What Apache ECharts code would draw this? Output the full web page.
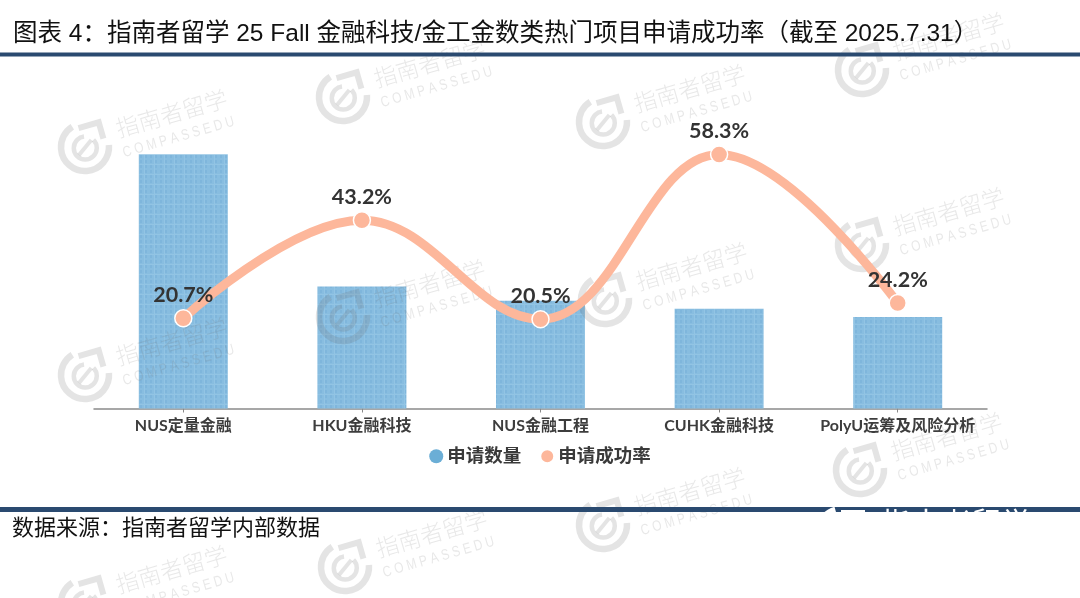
<!DOCTYPE html>
<html><head><meta charset="utf-8">
<style>html,body{margin:0;padding:0;background:#fff}#c{width:1080px;height:598px}</style>
<script src="https://cdn.jsdelivr.net/npm/echarts@6/dist/echarts.min.js"></script>
</head><body><div id="c"></div>
<script>
const titleText = '图表 4：指南者留学 25 Fall 金融科技/金工金数类热门项目申请成功率（截至 2025.7.31）';
const sourceText = '数据来源：指南者留学内部数据';
const categories = ['NUS定量金融','HKU金融科技','NUS金融工程','CUHK金融科技','PolyU运筹及风险分析'];
const applications = [250,120,106,98,90];
const successRate = [20.7,43.2,20.5,58.3,24.2];
const watermarkAt = [[85,147],[343,97],[603,122],[862,70],[85,375],[343,317],[605,300],[862,245],[603,525],[860,470],[345,567],[85,603]];

const CJK = '"Liberation Sans","Noto Sans CJK SC",sans-serif';
const LABEL = 'Lato,"Noto Sans CJK SC",sans-serif';
const wmIcon = 'rgba(110,110,110,0.19)';
const wmText = 'rgba(110,110,110,0.16)';

function iconParts(color,s,z){
  return [
    {type:'arc',z:z,shape:{cx:0,cy:0,r:24*s,startAngle:0.2,endAngle:-1.85,clockwise:true},style:{stroke:color,lineWidth:6.5*s,fill:null}},
    {type:'polyline',z:z,shape:{points:[[-1*s,-20*s],[20*s,-20*s],[20*s,-3*s]]},style:{stroke:color,lineWidth:6*s,fill:null}},
    {type:'arc',z:z,shape:{cx:0,cy:1*s,r:11.5*s,startAngle:-0.5,endAngle:-1.4,clockwise:true},style:{stroke:color,lineWidth:4.5*s,fill:null}},
    {type:'line',z:z,shape:{x1:-8*s,y1:6*s,x2:8*s,y2:-5*s},style:{stroke:color,lineWidth:4*s}}
  ];
}
function watermark(p){
  return {type:'group',x:p[0],y:p[1],rotation:0.28,silent:true,children:[
    ...iconParts(wmIcon,1,3),
    {type:'text',z:3,x:35,y:-20,style:{text:'指南者留学',font:'300 23px "Noto Sans CJK SC"',fill:wmText}},
    {type:'text',z:3,x:35,y:9,scaleX:0.8,style:{text:'C O M P A S S E D U',font:'400 15px "Liberation Sans"',fill:wmText}}
  ]};
}
function barTexture(){
  const c=document.createElement('canvas');c.width=10;c.height=10;
  const g=c.getContext('2d');
  g.fillStyle='#88bde0';g.fillRect(0,0,10,10);
  g.fillStyle='#7fb6dc';
  for(let x=0;x<10;x+=5)for(let y=0;y<10;y+=5){g.fillRect(x,y,2,3);}
  g.fillStyle='#92c4e4';
  g.fillRect(0,4,10,1);g.fillRect(4,0,1,10);
  return c;
}

const chart = echarts.init(document.getElementById('c'),null,{renderer:'canvas'});
chart.setOption({
  animation:false,
  backgroundColor:'#fff',
  title:{text:titleText,left:13,top:22,padding:0,
    textStyle:{fontFamily:CJK,fontSize:24.5,fontWeight:400,color:'#111'}},
  legend:{data:[{name:'申请数量',itemStyle:{color:'#6baed6'}},{name:'申请成功率',itemStyle:{color:'#fdb79b'}}],
    left:'center',top:442,icon:'circle',itemWidth:14,itemHeight:14,itemGap:18,
    textStyle:{fontFamily:LABEL,fontSize:18.5,fontWeight:700,color:'#3a3a3a',padding:[0,0,0,-1]}},
  grid:{left:94,right:93,top:103.5,bottom:189.5},
  xAxis:{type:'category',data:categories,
    axisLine:{lineStyle:{color:'#8a8a8a',width:1.5}},
    axisTick:{show:true,alignWithLabel:true,length:4,lineStyle:{color:'#8a8a8a'}},
    axisLabel:{fontFamily:LABEL,fontSize:16,fontWeight:700,color:'#3d3d3d',margin:9,interval:0}},
  yAxis:[
    {type:'value',min:0,max:300,show:false,splitLine:{show:false}},
    {type:'value',min:0,max:70,show:false,splitLine:{show:false}}
  ],
  series:[
    {name:'申请数量',type:'bar',data:applications,barWidth:89,z:2,
      itemStyle:{color:{image:barTexture(),repeat:'repeat'}}},
    {name:'申请成功率',type:'line',yAxisIndex:1,data:successRate,smooth:0.4,z:4,
      symbol:'circle',symbolSize:17,showAllSymbol:true,
      lineStyle:{color:'#fdb79b',width:9},
      itemStyle:{color:'#fdb79b',borderColor:'#fff',borderWidth:1.5},
      label:{show:true,position:'top',distance:3,formatter:p=>p.value.toFixed(1)+'%',
        fontFamily:LABEL,fontSize:21.5,fontWeight:700,color:'#333'}}
  ],
  graphic:[
    ...watermarkAt.map(watermark),
    {type:'rect',shape:{x:0,y:52.5,width:1080,height:4},style:{fill:'#2a4a70'},z:5,silent:true},
    {type:'rect',shape:{x:0,y:507,width:1080,height:5},style:{fill:'#2a4a70'},z:5,silent:true},
    {type:'group',x:842,y:533,silent:true,children:iconParts('#fff',1,6)},
    {type:'text',x:881,y:508,z:6,silent:true,style:{text:'指南者留学',font:'400 30px "Noto Sans CJK SC"',fill:'#fff'}},
    {type:'rect',shape:{x:800,y:512,width:280,height:86},style:{fill:'#fff'},z:7,silent:true},
    {type:'text',x:12,y:518,z:8,silent:true,style:{text:sourceText,font:'400 22px '+CJK,fill:'#111'}}
  ]
});
</script></body></html>
